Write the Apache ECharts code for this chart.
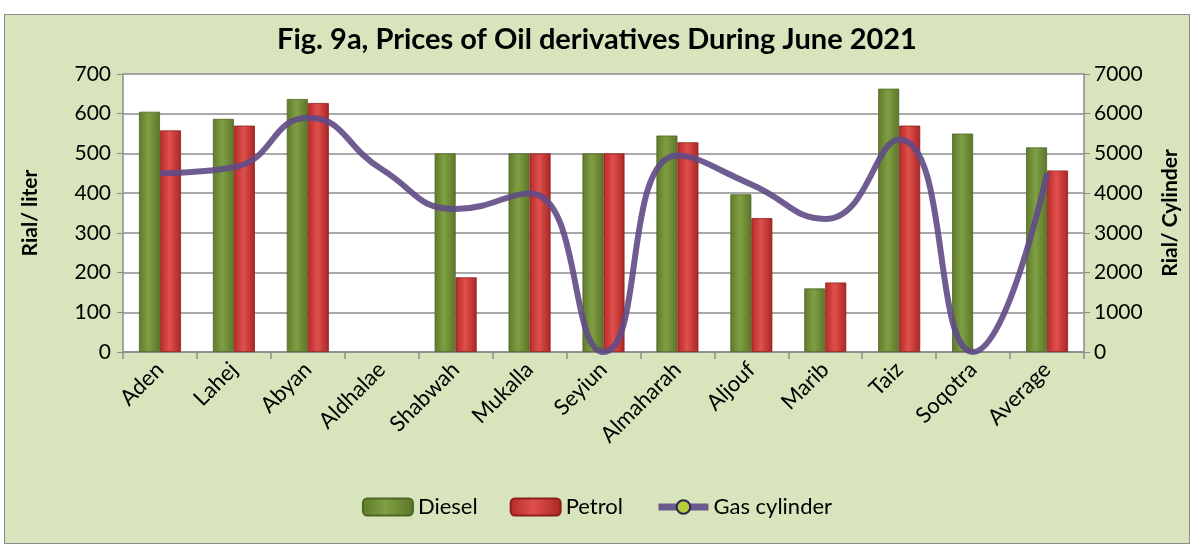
<!DOCTYPE html>
<html>
<head>
<meta charset="utf-8">
<script src="https://cdn.jsdelivr.net/npm/echarts@6/dist/echarts.min.js"></script>
<style>
  html, body { margin: 0; padding: 0; background: #ffffff; }
  #chart { position: absolute; left: 4px; top: 14px; width: 1186px; height: 530px;
    box-sizing: border-box; border: 1px solid #8c8c8c; background: #d8e4bc; }
</style>
</head>
<body>
<div id="chart"></div>
<script>
const categories = ['Aden', 'Lahej', 'Abyan', 'Aldhalae', 'Shabwah', 'Mukalla', 'Seyiun',
  'Almaharah', 'Aljouf', 'Marib', 'Taiz', 'Soqotra', 'Average'];
const diesel = [605, 587, 637, null, 500, 500, 500, 545, 397, 160, 663, 550, 515];
const petrol = [558, 570, 627, null, 188, 500, 500, 528, 337, 175, 570, null, 457];
const gasCylinder = [4500, 4650, 5900, 4600, 3600, 4000, 0, 4950, 4220, 3350, 5350, 0, 4500];
const leftTicks = { min: 0, max: 700, interval: 100 };
const rightTicks = { min: 0, max: 7000, interval: 1000 };

const chart = echarts.init(document.getElementById('chart'));
const font = 'Lato, "Open Sans", sans-serif';
const lineColor = '#5f4b86';

// horizontal gradients to imitate the shaded Excel bars
const greenFill = new echarts.graphic.LinearGradient(0, 0, 1, 0, [
  { offset: 0, color: '#5f7a2c' },
  { offset: 0.45, color: '#7f9f42' },
  { offset: 1, color: '#5c762a' }
]);
const redFill = new echarts.graphic.LinearGradient(0, 0, 1, 0, [
  { offset: 0, color: '#b42a28' },
  { offset: 0.45, color: '#e0504c' },
  { offset: 1, color: '#a92624' }
]);

const option = {
  backgroundColor: 'transparent',
  animation: false,
  title: {
    text: 'Fig. 9a, Prices of Oil derivatives During June 2021',
    left: 'center',
    top: 5,
    textStyle: { fontFamily: font, fontSize: 29, fontWeight: 'bold', color: '#000' }
  },
  legend: {
    bottom: 20,
    left: 'center',
    itemWidth: 50,
    itemHeight: 17,
    itemGap: 32,
    textStyle: { fontFamily: font, fontSize: 22, color: '#000' },
    data: [
      'Diesel',
      'Petrol',
      {
        name: 'Gas cylinder',
        lineStyle: { width: 7, color: lineColor },
        itemStyle: { color: '#b5cc3a', borderColor: '#2f2450', borderWidth: 2 }
      }
    ]
  },
  grid: { left: 118, right: 99, top: 59, bottom: 191, backgroundColor: '#ffffff', show: true, borderWidth: 0 },
  xAxis: {
    type: 'category',
    data: categories,
    axisLine: { lineStyle: { color: '#8c8c8c', width: 1.5 } },
    axisTick: { show: true, length: 7, lineStyle: { color: '#8c8c8c', width: 1.5 } },
    axisLabel: { rotate: 45, fontFamily: font, fontSize: 22, color: '#000', margin: 14 }
  },
  yAxis: [
    {
      type: 'value',
      min: leftTicks.min, max: leftTicks.max, interval: leftTicks.interval,
      name: 'Rial/ liter',
      nameLocation: 'middle',
      nameGap: 82,
      nameRotate: 90,
      nameTextStyle: { fontFamily: font, fontSize: 21, fontWeight: 'bold', color: '#000' },
      axisLine: { show: true, lineStyle: { color: '#8c8c8c', width: 1.5 } },
      axisTick: { show: true, length: 6, lineStyle: { color: '#8c8c8c' } },
      axisLabel: { fontFamily: font, fontSize: 21, color: '#000', margin: 12 },
      splitLine: { lineStyle: { color: '#8c8c8c', width: 1.5 } }
    },
    {
      type: 'value',
      min: rightTicks.min, max: rightTicks.max, interval: rightTicks.interval,
      name: 'Rial/ Cylinder',
      nameLocation: 'middle',
      nameGap: 76,
      nameRotate: 90,
      nameTextStyle: { fontFamily: font, fontSize: 21, fontWeight: 'bold', color: '#000' },
      axisLine: { show: true, lineStyle: { color: '#8c8c8c', width: 1.5 } },
      axisTick: { show: true, length: 6, lineStyle: { color: '#8c8c8c' } },
      axisLabel: {
        fontFamily: font, fontSize: 21, color: '#000', margin: 10,
        formatter: function (v) { return String(v); }
      },
      splitLine: { show: false }
    }
  ],
  series: [
    {
      name: 'Diesel',
      type: 'bar',
      data: diesel,
      barWidth: 21,
      barGap: '0%',
      itemStyle: { color: greenFill, borderColor: '#4f6624', borderWidth: 0.8 }
    },
    {
      name: 'Petrol',
      type: 'bar',
      data: petrol,
      barWidth: 21,
      itemStyle: { color: redFill, borderColor: '#8e1f1d', borderWidth: 0.8 }
    },
    {
      name: 'Gas cylinder',
      type: 'line',
      yAxisIndex: 1,
      data: gasCylinder,
      smooth: 0.5,
      symbol: 'none',
      lineStyle: { color: lineColor, width: 6, opacity: 0.9 },
      itemStyle: { color: lineColor }
    }
  ]
};

chart.setOption(option);
</script>
</body>
</html>
